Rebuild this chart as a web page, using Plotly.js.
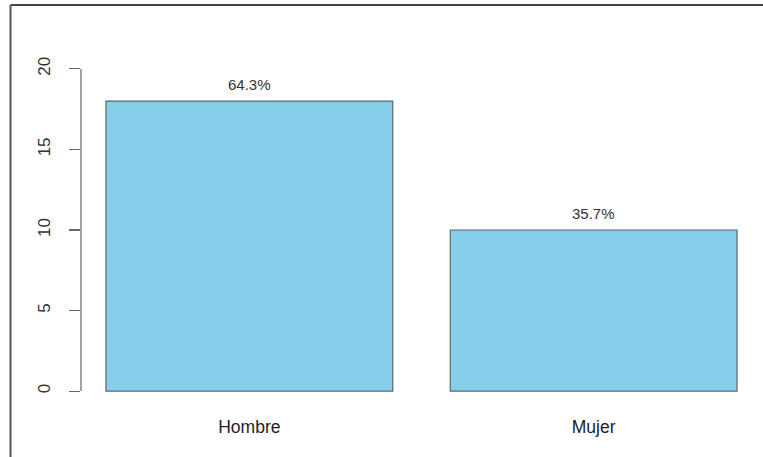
<!DOCTYPE html>
<html>
<head>
<meta charset="utf-8">
<script src="https://cdn.plot.ly/plotly-3.0.1.min.js"></script>
<style>html,body{margin:0;padding:0;background:#fff;}#chart{width:763px;height:457px;}</style>
</head>
<body>
<div id="chart"></div>
<script>
const categories = ['Hombre', 'Mujer'];
const counts = [18, 10];
const yTicks = [0, 5, 10, 15, 20];

const total = counts.reduce((a, b) => a + b, 0);
const pctLabels = counts.map(v => (100 * v / total).toFixed(1) + '%');

const FONT = 'Liberation Sans, Arial, sans-serif';

const trace = {
  type: 'bar',
  x: categories,
  y: counts,
  marker: { color: '#87CEEB', line: { color: '#5a6670', width: 1.2 } },
  hoverinfo: 'none'
};

const annotations = categories.map((c, i) => ({
  x: c, y: counts[i], xref: 'x', yref: 'y',
  text: pctLabels[i], showarrow: false,
  yanchor: 'bottom', yshift: 6,
  font: { family: FONT, size: 15, color: '#333' }
}));

const layout = {
  width: 763, height: 457,
  margin: { l: 81, r: 1, t: 56, b: 53 },
  paper_bgcolor: '#fff', plot_bgcolor: '#fff',
  showlegend: false,
  bargap: 0.167,
  xaxis: {
    type: 'category', range: [-0.489, 1.489],
    showgrid: false, zeroline: false, showline: false, ticks: '',
    ticklabelstandoff: 10,
    tickfont: { family: FONT, size: 17.5, color: '#222' },
    fixedrange: true
  },
  yaxis: {
    range: [-0.8, 20.8], tickvals: yTicks, ticktext: yTicks.map(String),
    showgrid: false, zeroline: false, showline: false,
    ticks: 'outside', ticklen: 11, tickwidth: 1.2, tickcolor: '#666',
    tickangle: -90, ticklabelstandoff: 12,
    tickfont: { family: FONT, size: 17, color: '#333' },
    fixedrange: true
  },
  shapes: [
    { type: 'line', xref: 'paper', yref: 'y', x0: 0, x1: 0, y0: 0, y1: 20,
      line: { color: '#666', width: 1.2 } },
    { type: 'line', xref: 'paper', yref: 'paper', x0: -0.1035, x1: 1.01, y0: 1.1466, y1: 1.1466,
      line: { color: '#444', width: 2 } },
    { type: 'line', xref: 'paper', yref: 'paper', x0: -0.1035, x1: -0.1035, y0: 1.1466, y1: -0.2,
      line: { color: '#555', width: 2 } }
  ],
  annotations: annotations
};

Plotly.newPlot('chart', [trace], layout, { displayModeBar: false, staticPlot: true });
</script>
</body>
</html>
